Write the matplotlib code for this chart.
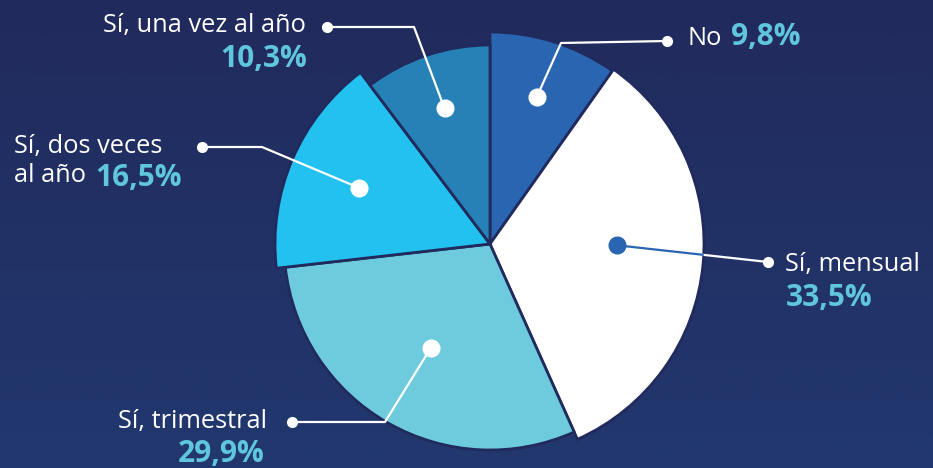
import numpy as np
import matplotlib.pyplot as plt
from matplotlib.colors import LinearSegmentedColormap

W, H = 933, 468

# data
labels = ["No", "Sí, mensual", "Sí, trimestral", "Sí, dos veces\nal año", "Sí, una vez al año"]
values = [9.8, 33.5, 29.9, 16.5, 10.3]
pct_text = ["9,8%", "33,5%", "29,9%", "16,5%", "10,3%"]

# style
colors = ["#2a65b1", "#ffffff", "#6dcbdd", "#23c1ef", "#2682b6"]
radii = [212, 214, 206, 215, 199]
dot_r = [154, 127, 120, 143, 143]
dot_nudge = [0, 5, 0, 0, 0]
bg_top, bg_bot = "#212a5c", "#21386f"
navy = "#212a5c"
cyan = "#5fc6dd"
center = (490, H - 244)


def py(y):
    return H - y


fig = plt.figure(figsize=(W / 100, H / 100), dpi=100)
ax = fig.add_axes([0, 0, 1, 1])
plt.rcParams["font.family"] = ["Open Sans", "DejaVu Sans"]

grad = np.linspace(0, 1, 256).reshape(-1, 1)
cmap = LinearSegmentedColormap.from_list("bg", [bg_bot, bg_top])
ax.imshow(grad, extent=[0, W, 0, H], origin="lower", cmap=cmap, aspect="auto", zorder=0)

wedges, _ = ax.pie(values, colors=colors, startangle=90, counterclock=False,
                   center=center, radius=213,
                   wedgeprops=dict(edgecolor=navy, linewidth=2))
for w, r in zip(wedges, radii):
    w.set_radius(r)
    w.set_zorder(2)

# leader lines: (elbow, end) in pixel coords
leaders = [
    ((561, 43), (667, 41)),
    ((None, None), (768, 262)),
    ((385, 422), (292, 422)),
    ((262, 147), (202, 147)),
    ((414, 27), (327, 27)),
]
for i, w in enumerate(wedges):
    ang = np.deg2rad((w.theta1 + w.theta2) / 2 + dot_nudge[i])
    dx = center[0] + dot_r[i] * np.cos(ang)
    dy = center[1] + dot_r[i] * np.sin(ang)
    (ex, ey), (tx, ty) = leaders[i]
    xs = [dx] + ([ex] if ex is not None else []) + [tx]
    ys = [dy] + ([py(ey)] if ey is not None else []) + [py(ty)]
    ax.plot(xs, ys, color="white", lw=1.6, zorder=3, solid_capstyle="round")
    ax.plot(tx, py(ty), "o", color="white", ms=7, zorder=4)
    dot_col = colors[0] if colors[i] == "#ffffff" else "white"
    if colors[i] == "#ffffff":
        seg, = ax.plot(xs, ys, color=colors[0], lw=1.6, zorder=3.5)
        seg.set_clip_path(w)
    ax.plot(dx, dy, "o", color=dot_col, ms=12, zorder=5)

txt = dict(color="white", fontsize=18.3, va="baseline")
pct = dict(color=cyan, fontsize=21.5, fontweight="bold", va="baseline")

ax.text(688, py(45), labels[0], ha="left", **txt)
ax.text(731, py(45), pct_text[0], ha="left", **pct)

ax.text(785, py(271), labels[1], ha="left", **txt)
ax.text(786, py(306), pct_text[1], ha="left", **pct)

ax.text(267, py(428), labels[2], ha="right", **txt)
ax.text(265, py(462), pct_text[2], ha="right", **pct)

l1, l2 = labels[3].split("\n")
ax.text(14, py(153), l1, ha="left", **txt)
ax.text(14, py(182), l2, ha="left", **txt)
ax.text(95, py(186), pct_text[3], ha="left", **pct)

ax.text(306, py(32), labels[4], ha="right", **txt)
ax.text(307, py(67), pct_text[4], ha="right", **pct)

ax.set_xlim(0, W)
ax.set_ylim(0, H)
ax.set_aspect("auto")
ax.axis("off")

fig.savefig("out.png", dpi=100)
